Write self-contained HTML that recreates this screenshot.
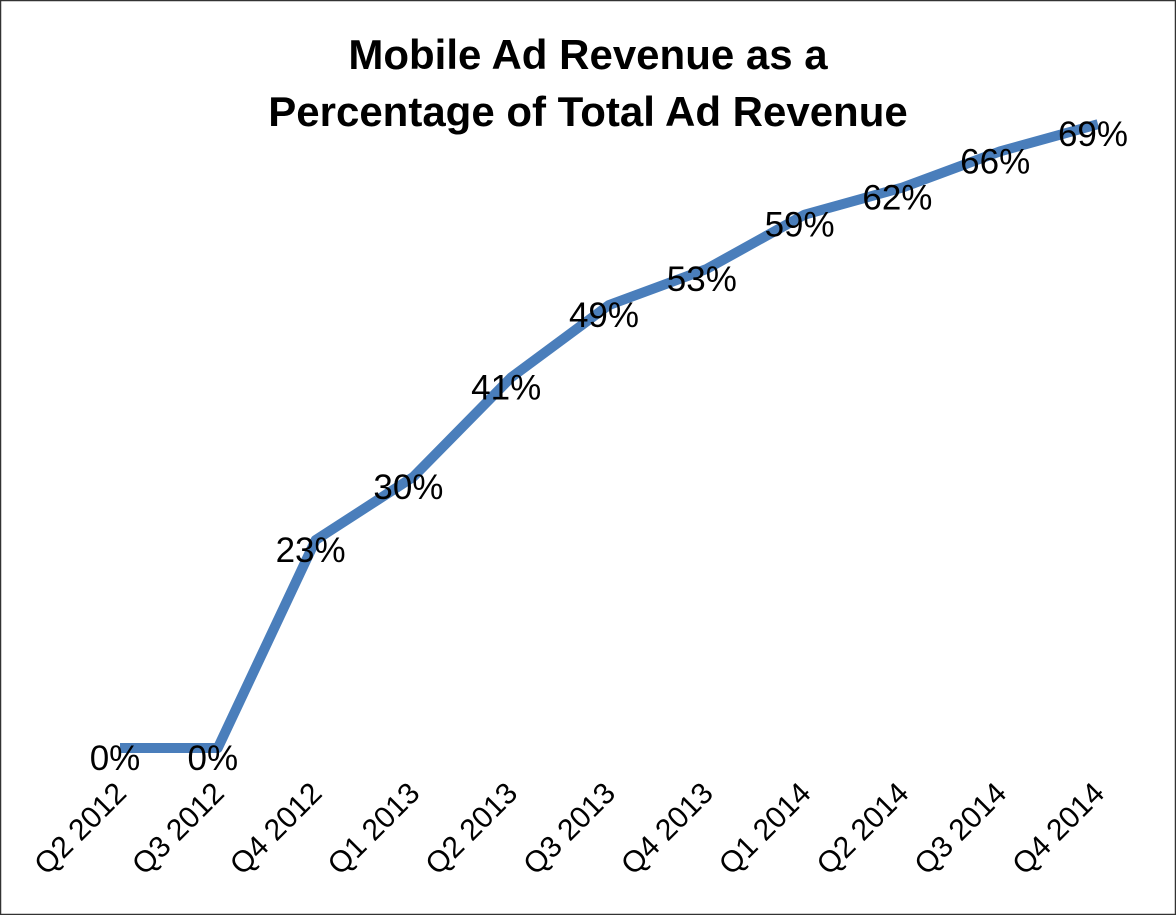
<!DOCTYPE html>
<html><head><meta charset="utf-8"><style>
html,body{margin:0;padding:0;background:#fff}
svg{display:block}
text{font-family:"Liberation Sans",sans-serif;fill:#000}
</style></head><body>
<svg id="chart" width="1176" height="915" viewBox="0 0 1176 915" xmlns="http://www.w3.org/2000/svg">
<rect x="0.5" y="0.5" width="1175" height="914" fill="#fff" stroke="#333" stroke-width="1.5"/>
<text x="588" y="69" text-anchor="middle" font-size="42" font-weight="bold">Mobile Ad Revenue as a</text>
<text x="588" y="126" text-anchor="middle" font-size="42" font-weight="bold">Percentage of Total Ad Revenue</text>
<g id="plot"></g>
</svg>
<script>
const categories=["Q2 2012","Q3 2012","Q4 2012","Q1 2013","Q2 2013","Q3 2013","Q4 2013","Q1 2014","Q2 2014","Q3 2014","Q4 2014"];
const values=[0,0,23,30,41,49,53,59,62,66,69];
const valueLabels=["0%","0%","23%","30%","41%","49%","53%","59%","62%","66%","69%"];
const NS="http://www.w3.org/2000/svg";
const g=document.getElementById('plot');
const x0=120,x1=1098,y0=748,yPer=9.04;
function xs(i){return x0+(x1-x0)*i/(categories.length-1);}
function ys(v){return y0-v*yPer;}
const line=document.createElementNS(NS,'polyline');
line.setAttribute('points',values.map((v,i)=>xs(i)+','+ys(v)).join(' '));
line.setAttribute('fill','none');line.setAttribute('stroke','#4a7ebb');
line.setAttribute('stroke-width','10');line.setAttribute('stroke-linejoin','round');


g.appendChild(line);
values.forEach((v,i)=>{
  const t=document.createElementNS(NS,'text');
  t.setAttribute('x',xs(i)-5);t.setAttribute('y',ys(v)+22);
  t.setAttribute('text-anchor','middle');t.setAttribute('font-size','35');
  t.textContent=valueLabels[i];
  
  
  g.appendChild(t);
  const c=document.createElementNS(NS,'text');
  const cx=xs(i)+8,cy=795;
  c.setAttribute('x',cx);c.setAttribute('y',cy);
  c.setAttribute('text-anchor','end');c.setAttribute('font-size','30');
  c.setAttribute('transform','rotate(-45 '+cx+' '+cy+')');
  c.textContent=categories[i];
  
  
  g.appendChild(c);
});
</script>
</body></html>
